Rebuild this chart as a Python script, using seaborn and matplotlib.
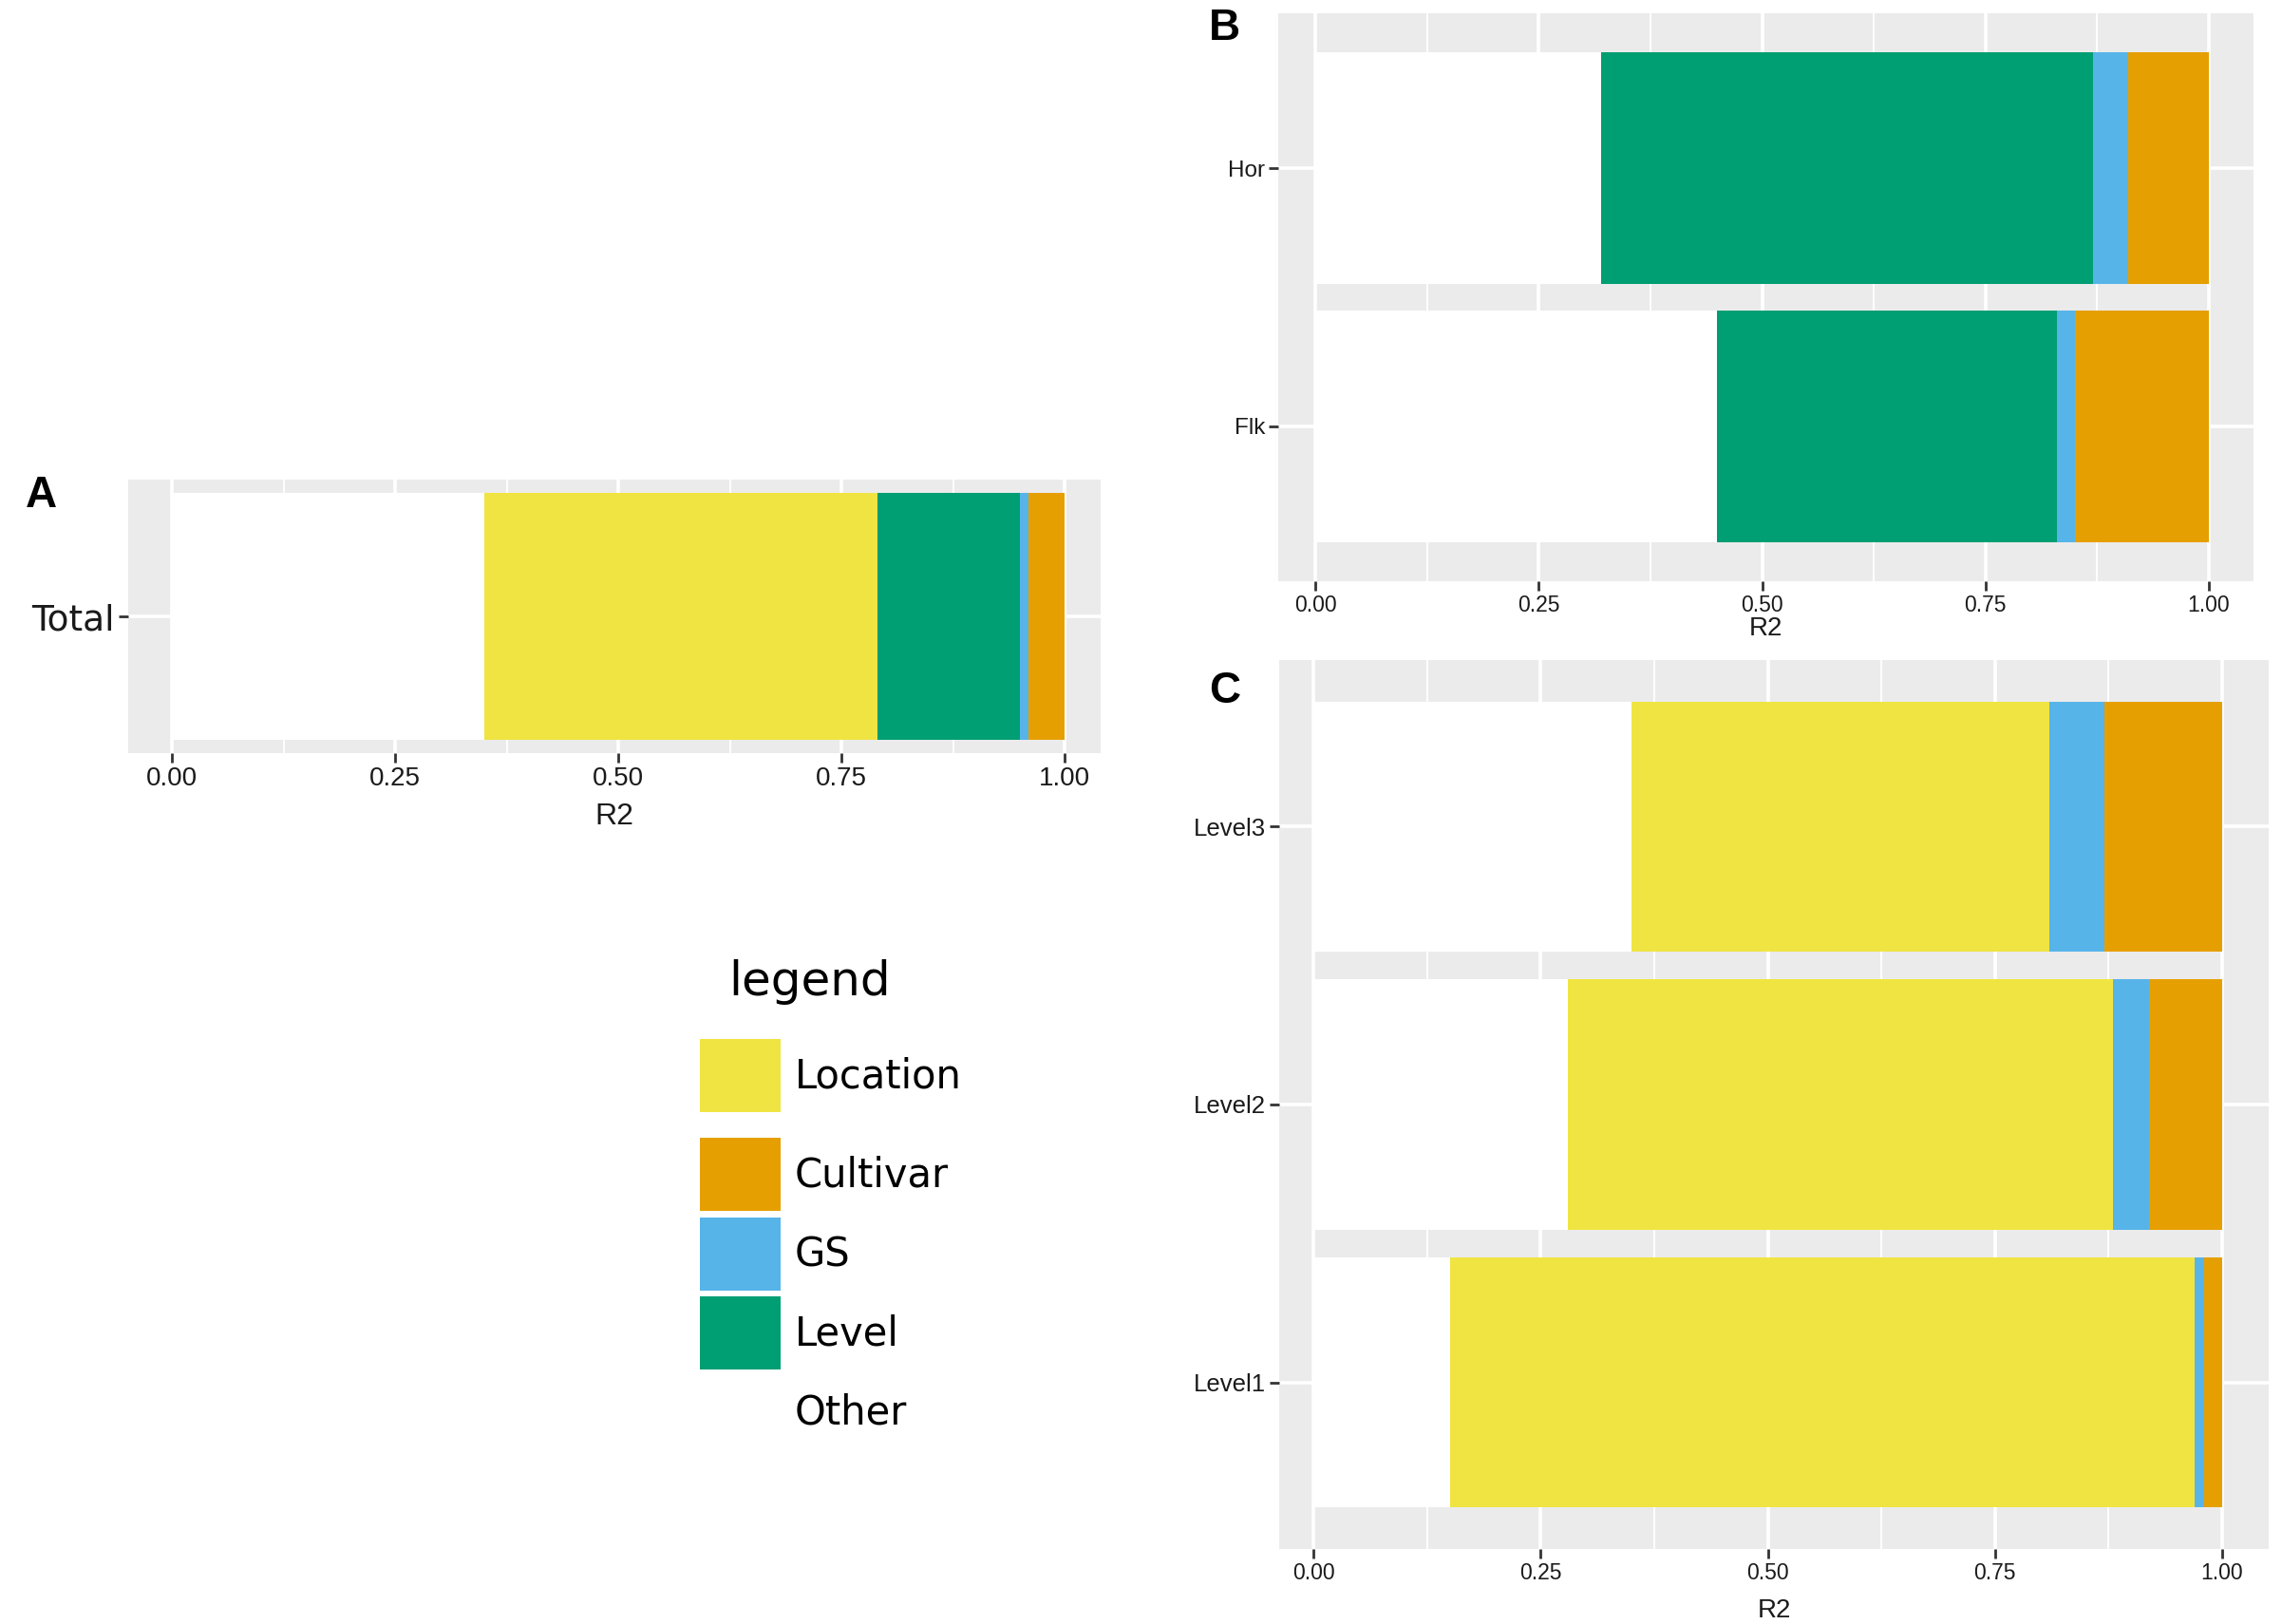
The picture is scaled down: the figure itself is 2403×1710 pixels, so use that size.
import numpy as np
import pandas as pd
import matplotlib.pyplot as plt
import seaborn as sns
from matplotlib.patches import Rectangle

# components from left to right inside each bar
components = ['Other', 'Location', 'Level', 'GS', 'Cultivar']
legend_order = ['Location', 'Cultivar', 'GS', 'Level', 'Other']
colors = {'Location': '#F0E442', 'Cultivar': '#E69F00', 'GS': '#56B4E9',
          'Level': '#009E73', 'Other': '#FFFFFF'}
ticks = [0.0, 0.25, 0.5, 0.75, 1.0]
tick_labels = ['0.00', '0.25', '0.50', '0.75', '1.00']

# panel A
total_rows = ['Total']
total_other = [0.35]
total_location = [0.44]
total_level = [0.16]
total_gs = [0.01]
total_cultivar = [0.04]

# panel B
trait_rows = ['Hor', 'Flk']
trait_other = [0.32, 0.45]
trait_location = [0.0, 0.0]
trait_level = [0.55, 0.38]
trait_gs = [0.04, 0.02]
trait_cultivar = [0.09, 0.15]

# panel C
level_rows = ['Level3', 'Level2', 'Level1']
level_other = [0.35, 0.28, 0.15]
level_location = [0.46, 0.60, 0.82]
level_level = [0.0, 0.0, 0.0]
level_gs = [0.06, 0.04, 0.01]
level_cultivar = [0.13, 0.08, 0.02]

W, H = 2403, 1710


def make_frame(rows, other, location, level, gs, cultivar):
    vals = dict(Other=other, Location=location, Level=level, GS=gs, Cultivar=cultivar)
    recs = []
    for i, r in enumerate(rows):
        for c in components:
            recs.append({'Row': r, 'Component': c, 'R2': vals[c][i]})
    df = pd.DataFrame(recs)
    df['Component'] = pd.Categorical(df['Component'], components, ordered=True)
    df = df.sort_values(['Row', 'Component'])
    df['cum'] = df.groupby('Row', observed=True)['R2'].cumsum()
    return df


def px_axes(fig, x0, x1, y0, y1):
    return fig.add_axes([x0 / W, 1 - y1 / H, (x1 - x0) / W, (y1 - y0) / H])


def stacked_panel(ax, df, rows, zero_px, one_px, x0, x1, ypad,
                  tick_fs, ytick_fs, label_fs, ytick_family, labelpad):
    # draw cumulative bars from the longest down, so each one covers the next
    for c in reversed(components):
        sub = df[(df['Component'] == c) & (df['R2'] > 0)]
        if sub.empty:
            continue
        sns.barplot(data=sub, x='cum', y='Row', order=rows, orient='h',
                    color=colors[c], saturation=1, width=0.9, linewidth=0,
                    errorbar=None, ax=ax)
    span = one_px - zero_px
    ax.set_xlim((x0 - zero_px) / span, (x1 - zero_px) / span)
    n = len(rows)
    ax.set_ylim(n - 1 + ypad, -ypad)
    ax.set_facecolor('#EBEBEB')
    ax.set_axisbelow(True)
    ax.set_xticks(ticks)
    ax.set_xticklabels(tick_labels)
    ax.set_xticks([0.125, 0.375, 0.625, 0.875], minor=True)
    ax.grid(which='major', color='white', linewidth=2.6)
    ax.grid(which='minor', axis='x', color='white', linewidth=1.3)
    for s in ax.spines.values():
        s.set_visible(False)
    ax.tick_params(axis='both', which='major', length=7, width=2,
                   color='#333333', labelcolor='#1a1a1a', pad=3,
                   bottom=True, left=True)
    ax.tick_params(axis='x', labelsize=tick_fs)
    ax.tick_params(axis='y', labelsize=ytick_fs)
    ax.tick_params(which='minor', length=0, bottom=False, left=False)
    for t in ax.get_yticklabels():
        t.set_family(ytick_family)
    ax.set_xlabel('R2', fontsize=label_fs, labelpad=labelpad, color='#1a1a1a')
    ax.set_ylabel('')


sns.set_style('darkgrid', {'axes.facecolor': '#EBEBEB', 'grid.color': 'white'})
plt.rcParams['font.family'] = ['Liberation Sans', 'DejaVu Sans']

fig = plt.figure(figsize=(W / 100, H / 100), dpi=100)
fig.patch.set_facecolor('white')

# A
df_a = make_frame(total_rows, total_other, total_location, total_level, total_gs, total_cultivar)
ax_a = px_axes(fig, 135, 1159, 505, 793)
stacked_panel(ax_a, df_a, total_rows, 181, 1121, 135, 1159, 0.5,
              20, 27, 23, 'DejaVu Sans', 9)

# B
df_b = make_frame(trait_rows, trait_other, trait_location, trait_level, trait_gs, trait_cultivar)
ax_b = px_axes(fig, 1346, 2373, 14, 612)
stacked_panel(ax_b, df_b, trait_rows, 1385, 2326, 1346, 2373, 0.6,
              16.5, 17.5, 20, 'Liberation Sans', 0)

# C
df_c = make_frame(level_rows, level_other, level_location, level_level, level_gs, level_cultivar)
ax_c = px_axes(fig, 1347, 2389, 695, 1631)
stacked_panel(ax_c, df_c, level_rows, 1383, 2340, 1347, 2389, 0.6,
              16.5, 18.5, 20, 'Liberation Sans', 11)

# panel letters
for letter, x, y in [('A', 27, 522), ('B', 1273, 30), ('C', 1273, 728)]:
    fig.text(x / W, 1 - y / H, letter, fontsize=33, fontweight='bold',
             ha='left', va='center', color='black')

# legend drawn on a transparent overlay in pixel units
lax = fig.add_axes([0, 0, 1, 1], facecolor='none')
lax.set_xlim(0, W)
lax.set_ylim(H, 0)
lax.axis('off')
lax.text(767, 1048, 'legend', fontsize=36, family='DejaVu Sans',
         ha='left', va='baseline', color='black')
key_tops = [1094, 1198, 1282, 1365, 1448]
for name, top in zip(legend_order, key_tops):
    lax.add_patch(Rectangle((737, top), 85, 77, facecolor=colors[name],
                            edgecolor='none'))
    lax.text(837, top + 39, name, fontsize=30, family='DejaVu Sans',
             ha='left', va='center', color='black')

fig.savefig('out.png', dpi=100)
